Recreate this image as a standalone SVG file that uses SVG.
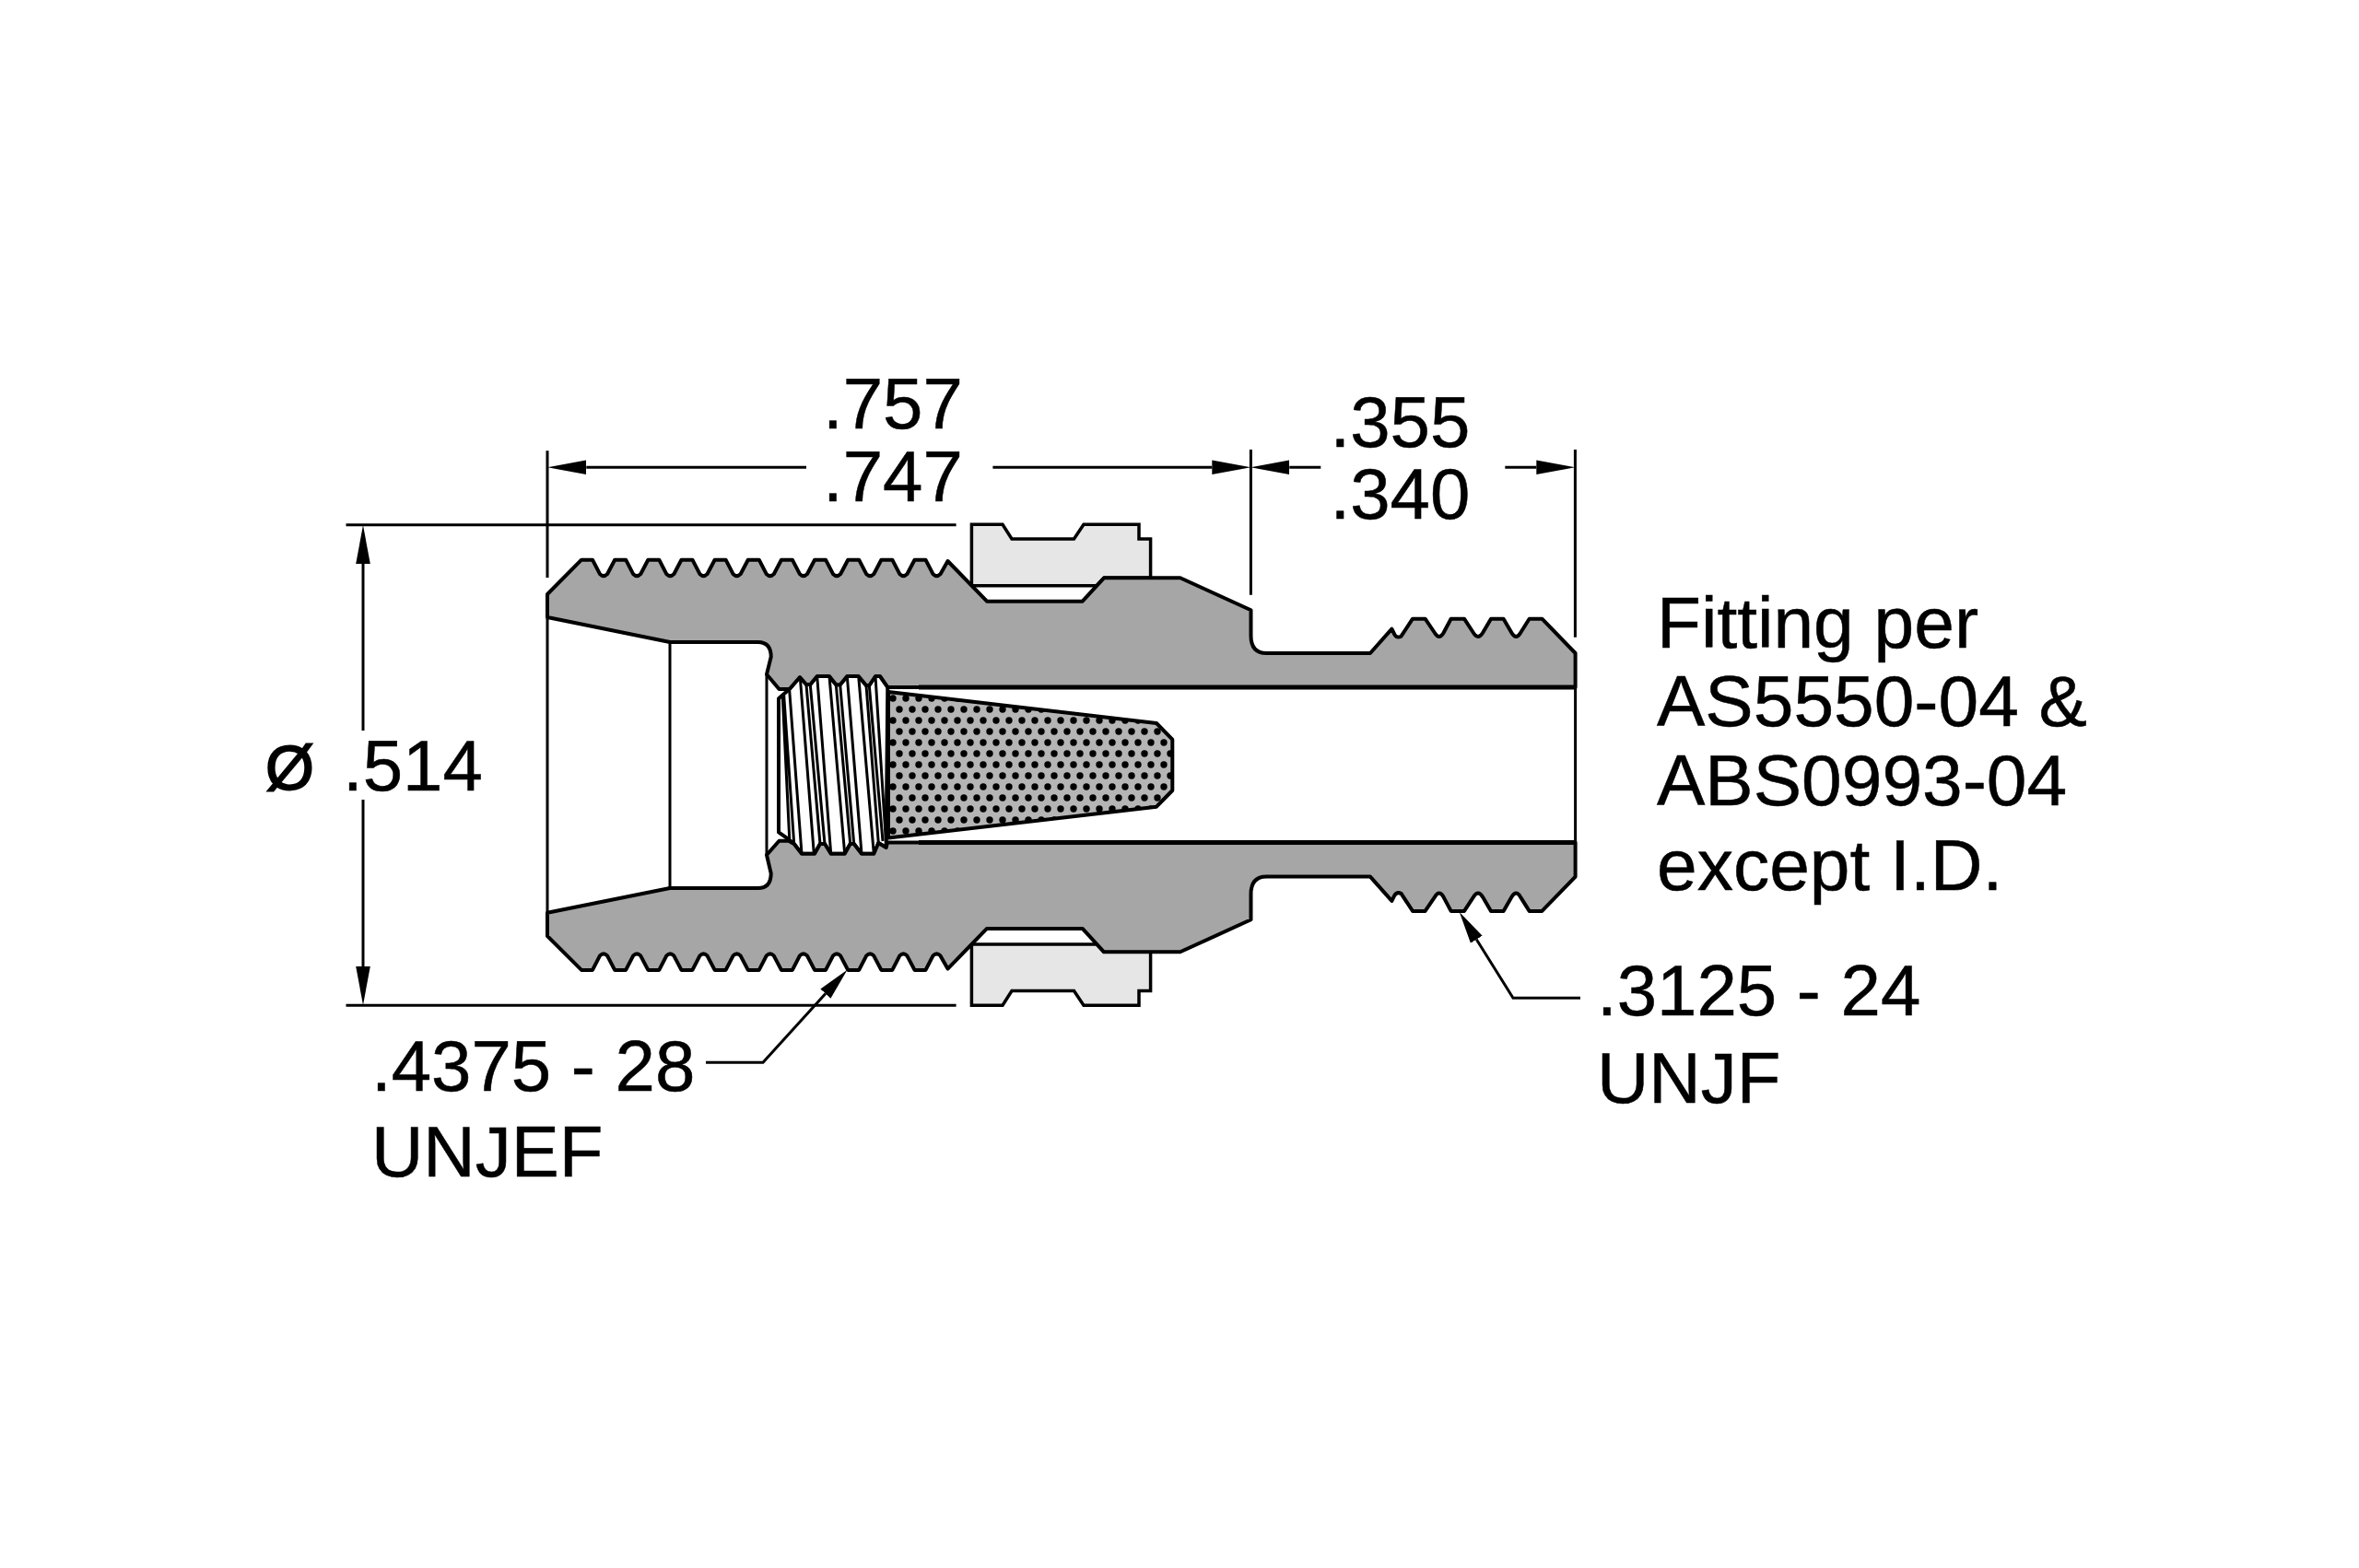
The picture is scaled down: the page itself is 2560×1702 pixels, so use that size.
<svg xmlns="http://www.w3.org/2000/svg" width="2560" height="1702" viewBox="0 0 2560 1702">
<style>
text{font-family:"Liberation Sans",Arial,sans-serif;font-size:78px;fill:#000;stroke:#000;stroke-width:.5}
text.note{font-size:78.5px}
.body{fill:#a6a6a6;stroke:#000;stroke-width:4;stroke-linejoin:round}
.ring{fill:#e6e6e6;stroke:#000;stroke-width:3.5;stroke-linejoin:miter}
.thin{fill:none;stroke:#000;stroke-width:3}
.dim{fill:none;stroke:#000;stroke-width:3}
.th{fill:none;stroke:#000;stroke-width:3}
</style>
<defs>
<marker id="arrow" markerUnits="userSpaceOnUse" markerWidth="44" markerHeight="18" viewBox="0 -9 44 18" refX="0" refY="0" orient="auto"><path d="M0,-7.8L42,0L0,7.8Z" fill="#000"/></marker>
<marker id="leader" markerUnits="userSpaceOnUse" markerWidth="37" markerHeight="18" viewBox="0 -9 37 18" refX="0" refY="0" orient="auto"><path d="M0,-7.5L35,0L0,7.5Z" fill="#000"/></marker>
<pattern id="dots" patternUnits="userSpaceOnUse" x="1130" y="818" width="14" height="24"><circle cx="0" cy="0" r="3.7" fill="#000"/><circle cx="14" cy="0" r="3.7" fill="#000"/><circle cx="7" cy="12" r="3.7" fill="#000"/><circle cx="0" cy="24" r="3.7" fill="#000"/><circle cx="14" cy="24" r="3.7" fill="#000"/></pattern>
</defs>
<rect width="2560" height="1702" fill="#fff"/>
<g id="inner-lines">
<path class="thin" d="M594,670V990.7M727,697V964M832,732V928M1709.6,746V914.6"/>
</g>
<g id="screen">
<path d="M964,751L1255,785L1272.3,802.7V858L1255,875.7L964,909.6Z" fill="#b5b5b5"/>
<path d="M964,751L1255,785L1272.3,802.7V858L1255,875.7L964,909.6Z" fill="url(#dots)" stroke="#000" stroke-width="4" stroke-linejoin="round"/>
</g>
<g id="screw-thread">
<path d="M845,758.3L856.7,748L868,735L875,743H879.3L886.7,734H900L907.3,743.3H911.7L919.3,734H931.7L940,744H943.3L950,734H955L963.3,745L961.7,920L953.3,915L948.3,926.7H935L926.7,916H922.7L916.7,926.7H901.7L895,916H890L884,926.7H870L861.7,916L856.7,911.7L845,903.3Z" fill="#fff" stroke="#000" stroke-width="4" stroke-linejoin="round"/>
<path class="th" d="M849.3,756.7L856.7,910M850.7,755L861.7,916M856.7,749.3L870,926.7M868.3,735L883.3,926.7M875,743.3L890,916M879.3,743.3L895,916M886.7,734L901.7,926.7M900,734L916.7,926.7M907.3,743.3L922.7,916M911.7,743.3L926.7,916M919.3,734L935,926.7M931.7,734L948.3,926.7M940,744L953.3,915M943.3,744L958,913M950,734L961.7,918"/>
</g>
<g id="ring-top">
<path class="ring" d="M1054.4,635.7V569.3H1088L1098,585H1165.5L1176,569.3H1236V585H1248.6V627.3H1198L1190,635.7Z"/>
</g>
<g id="ring-bottom">
<path class="ring" d="M1054.4,1024.9V1091.3H1088L1098,1075.6H1165.5L1176,1091.3H1236V1075.6H1248.6V1033.3H1198L1190,1024.9Z"/>
</g>
<g id="body-top">
<path class="body" d="M594,670V645L631,607.7H643l8,15.5q4,4 8,0l8.15,-15.5h12l8,15.5q4,4 8,0l8.15,-15.5h12l8,15.5q4,4 8,0l8.15,-15.5h12l8,15.5q4,4 8,0l8.15,-15.5h12l8,15.5q4,4 8,0l8.15,-15.5h12l8,15.5q4,4 8,0l8.15,-15.5h12l8,15.5q4,4 8,0l8.15,-15.5h12l8,15.5q4,4 8,0l8.15,-15.5h12l8,15.5q4,4 8,0l8.15,-15.5h12l8,15.5q4,4 8,0l8.15,-15.5h12l8,15.5q4,4 8,0L1028.5,609L1071,652.7H1174.7L1198,627.3H1280.8L1357.5,662.3V690Q1357.5,709 1374.4,709H1487L1510.4,682.7L1513.5,689Q1516,693 1520.5,690.7L1533,671.7H1546.6L1557,687Q1561.8,695 1566.5,687L1574.6,671.7H1589L1599,687Q1604,695 1609,687L1618,671.7H1631.6L1640.5,687Q1645.3,695 1650,687L1659.6,671.7H1673.4L1709.6,709V746H963.3L955,734H950L943.3,744H940L931.7,734H919.3L911.7,743.3H907.3L900,734H886.7L879.3,743H875L868,735L856.7,748H845.5L832,732L836.7,713Q836.7,697 822.6,697H727Z"/>
<path d="M997,746H1709.6" fill="none" stroke="#000" stroke-width="5"/>
</g>
<g id="body-bottom">
<path class="body" d="M594,990.7V1016L631,1052.9H643l8,-15.5q4,-4 8,0l8.15,15.5h12l8,-15.5q4,-4 8,0l8.15,15.5h12l8,-15.5q4,-4 8,0l8.15,15.5h12l8,-15.5q4,-4 8,0l8.15,15.5h12l8,-15.5q4,-4 8,0l8.15,15.5h12l8,-15.5q4,-4 8,0l8.15,15.5h12l8,-15.5q4,-4 8,0l8.15,15.5h12l8,-15.5q4,-4 8,0l8.15,15.5h12l8,-15.5q4,-4 8,0l8.15,15.5h12l8,-15.5q4,-4 8,0l8.15,15.5h12l8,-15.5q4,-4 8,0L1028.5,1051.6L1071,1007.9H1174.7L1198,1033.3H1280.8L1357.5,998.3V970.6Q1357.5,951.6 1374.4,951.6H1487L1510.4,977.9L1513.5,971.6Q1516,967.6 1520.5,969.9L1533,988.9H1546.6L1557,973.6Q1561.8,965.6 1566.5,973.6L1574.6,988.9H1589L1599,973.6Q1604,965.6 1609,973.6L1618,988.9H1631.6L1640.5,973.6Q1645.3,965.6 1650,973.6L1659.6,988.9H1673.4L1709.6,951.6V914.6H963L961.7,920L953.3,915L948.3,926.7H935L926.7,916H922.7L916.7,926.7H901.7L895,916H890L884,926.7H870L861.7,916L856,912.7H845.5L832,928L836.7,948Q836.7,964 822.6,964H727Z"/>
<path d="M997,914.6H1709.6" fill="none" stroke="#000" stroke-width="5"/>
</g>
<g id="connectors">
<path class="dim" d="M594,489.3V627M1357.4,488V645.7M1709.4,488V691.7"/>
<path class="dim" d="M375.5,569.7H1037.6M375.5,1091.3H1037.6"/>
<path class="dim" marker-end="url(#arrow)" d="M875,507.3H636.3"/>
<path class="dim" marker-end="url(#arrow)" d="M1077.4,507.3H1315.3"/>
<path class="dim" marker-end="url(#arrow)" d="M1433.3,507.3H1399.3"/>
<path class="dim" marker-end="url(#arrow)" d="M1633.3,507.3H1667.3"/>
<path class="dim" marker-end="url(#arrow)" d="M394,793V612"/>
<path class="dim" marker-end="url(#arrow)" d="M394,868V1049"/>
<path class="dim" marker-end="url(#leader)" d="M766,1153.3H828L895.9,1078.6"/>
<path class="dim" marker-end="url(#leader)" d="M1715,1083.3H1642L1602.3,1019.7"/>
</g>
<g id="labels">
<text x="893" y="465">.757</text>
<text x="893" y="544">.747</text>
<text x="1443.5" y="485">.355</text>
<text x="1443.5" y="563.3">.340</text>
<text x="288" y="857" style="font-size:68px;stroke-width:1.8">Ø</text>
<text x="372" y="858">.514</text>
<text x="403" y="1184">.4375 - 28</text>
<text x="403" y="1277">UNJEF</text>
<text x="1733" y="1102.3">.3125 - 24</text>
<text x="1733" y="1196.7">UNJF</text>
<text class="note" x="1798" y="703.3">Fitting per</text>
<text class="note" x="1798" y="788.3">AS5550-04 &amp;</text>
<text class="note" x="1798" y="874.3">ABS0993-04</text>
<text class="note" x="1798" y="966">except I.D.</text>
</g>
</svg>
